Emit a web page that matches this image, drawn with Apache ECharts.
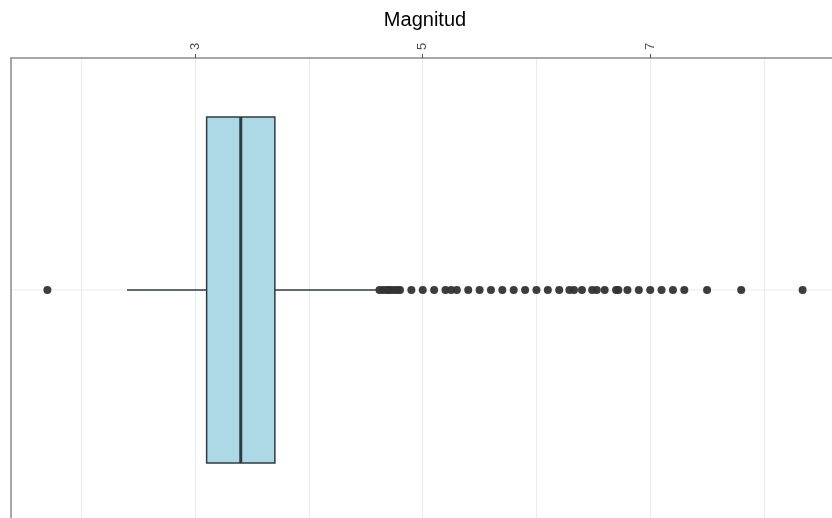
<!DOCTYPE html>
<html>
<head>
<meta charset="utf-8">
<script src="https://cdn.jsdelivr.net/npm/echarts@6/dist/echarts.min.js"></script>
<style>
  html, body { margin: 0; padding: 0; background: #fff; }
  #chart { width: 832px; height: 518px; }
</style>
</head>
<body>
<div id="chart"></div>
<script>
// Magnitude distribution: box statistics and outlying observations
const categories = [''];
const boxStats = [2.4, 3.1, 3.4, 3.7, 4.6]; // lower whisker, Q1, median, Q3, upper whisker
const outliers = [
  1.7,
  4.62, 4.65, 4.68, 4.7, 4.72, 4.75, 4.78, 4.8, 4.9,
  5.0, 5.1, 5.2, 5.25, 5.3, 5.4, 5.5, 5.6, 5.7, 5.8, 5.9,
  6.0, 6.1, 6.2, 6.29, 6.33, 6.4, 6.49, 6.53, 6.6, 6.7, 6.72, 6.8, 6.9,
  7.0, 7.1, 7.2, 7.3, 7.5, 7.8, 8.34
];
const tickLabels = [3, 5, 7];
const axisRange = [1.38, 8.66];

const FONT = 'Liberation Sans, Arial, sans-serif';
const BOX_FILL = '#add8e6';
const BOX_EDGE = '#2f3b40';
const BOX_FRACTION = 0.746; // box height relative to the category band
const GRID_COLOR = '#ebebeb';
const FRAME_COLOR = '#8c8c8c';

const chart = echarts.init(document.getElementById('chart'), null, { renderer: 'canvas' });

function renderBox(params, api) {
  const cat = api.value(0);
  const pMin = api.coord([api.value(1), cat]);
  const pQ1 = api.coord([api.value(2), cat]);
  const pMed = api.coord([api.value(3), cat]);
  const pQ3 = api.coord([api.value(4), cat]);
  const pMax = api.coord([api.value(5), cat]);
  const band = api.size([0, 1])[1];
  const half = band * BOX_FRACTION / 2;
  const cy = pMed[1];
  const cs = params.coordSys;
  const edge = { stroke: BOX_EDGE, lineWidth: 1.5 };
  return {
    type: 'group',
    children: [
      // horizontal grid line through the category centre
      { type: 'line', shape: { x1: cs.x, y1: cy, x2: cs.x + cs.width, y2: cy },
        style: { stroke: GRID_COLOR, lineWidth: 1 } },
      { type: 'line', shape: { x1: pMin[0], y1: cy, x2: pQ1[0], y2: cy }, style: edge },
      { type: 'line', shape: { x1: pQ3[0], y1: cy, x2: pMax[0], y2: cy }, style: edge },
      { type: 'rect', shape: { x: pQ1[0], y: cy - half, width: pQ3[0] - pQ1[0], height: 2 * half },
        style: { fill: BOX_FILL, stroke: BOX_EDGE, lineWidth: 1.5 } },
      { type: 'line', shape: { x1: pMed[0], y1: cy - half, x2: pMed[0], y2: cy + half },
        style: { stroke: BOX_EDGE, lineWidth: 3 } }
    ]
  };
}

const sharedRange = {
  type: 'value',
  min: axisRange[0],
  max: axisRange[1],
  splitNumber: 7,
  minInterval: 1,
  maxInterval: 1
};

const option = {
  backgroundColor: '#ffffff',
  animation: false,
  grid: { left: 11, top: 58, width: 828, height: 464, containLabel: false, outerBoundsMode: 'none' },
  xAxis: [
    Object.assign({}, sharedRange, {
      position: 'top',
      name: 'Magnitud',
      nameLocation: 'middle',
      nameGap: 28,
      nameTextStyle: { fontFamily: FONT, fontSize: 20, color: '#000' },
      axisLine: { show: true, lineStyle: { color: FRAME_COLOR, width: 1.5 } },
      axisTick: { show: true, customValues: tickLabels, length: 4,
                  lineStyle: { color: '#555', width: 1 } },
      axisLabel: { show: true, customValues: tickLabels, rotate: -90, margin: 8,
                   fontFamily: FONT, fontSize: 13, color: '#4d4d4d' },
      splitLine: { show: false },
      z: 5
    }),
    // companion axis carrying the unit grid lines
    Object.assign({}, sharedRange, {
      position: 'bottom',
      axisLine: { show: false },
      axisTick: { show: false },
      axisLabel: { show: false },
      splitLine: { show: true, lineStyle: { color: GRID_COLOR, width: 1 } }
    })
  ],
  yAxis: {
    type: 'category',
    data: categories,
    axisLine: { show: true, lineStyle: { color: FRAME_COLOR, width: 1.5 } },
    axisTick: { show: false },
    axisLabel: { show: false },
    splitLine: { show: false },
    z: 5
  },
  series: [
    {
      type: 'custom',
      renderItem: renderBox,
      encode: { y: 0, x: [1, 2, 3, 4, 5] },
      data: [[0].concat(boxStats)],
      z: 2
    },
    {
      type: 'scatter',
      symbol: 'circle',
      symbolSize: 8,
      itemStyle: { color: '#333333', opacity: 0.95 },
      data: outliers.map(v => [v, 0]),
      z: 3
    }
  ]
};

chart.setOption(option);
</script>
</body>
</html>
